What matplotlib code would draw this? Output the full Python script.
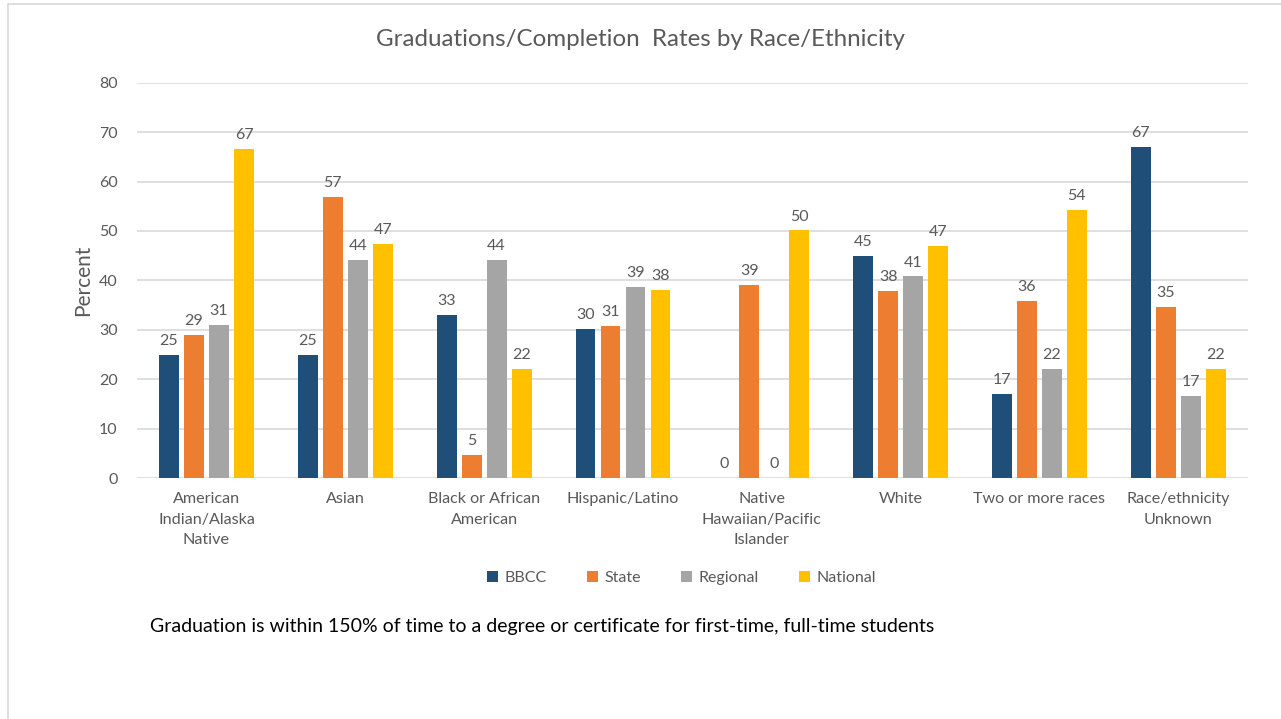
import numpy as np
import matplotlib.pyplot as plt
from matplotlib.patches import Rectangle

categories = ["American\nIndian/Alaska\nNative", "Asian", "Black or African\nAmerican",
              "Hispanic/Latino", "Native\nHawaiian/Pacific\nIslander", "White",
              "Two or more races", "Race/ethnicity\nUnknown"]
series_names = ["BBCC", "State", "Regional", "National"]
bbcc = [25, 25, 33, 30.1, 0, 45, 17, 67]
state = [28.9, 56.8, 4.6, 30.7, 39, 37.8, 35.8, 34.7]
regional = [30.9, 44.2, 44.2, 38.6, 0, 40.8, 22, 16.6]
national = [66.6, 47.3, 22, 38, 50.1, 46.9, 54.3, 22]
yticks = [0, 10, 20, 30, 40, 50, 60, 70, 80]

colors = ["#1F4E79", "#ED7D31", "#A5A5A5", "#FFC000"]
txt_gray = "#595959"

plt.rcParams['font.family'] = ['Lato', 'DejaVu Sans']

fig = plt.figure(figsize=(12.81, 7.19), dpi=100)
ax = fig.add_axes([0.107, 0.335, 0.867, 0.55])

x = np.arange(len(categories))
width = 0.143
pitch = 0.18
all_series = [bbcc, state, regional, national]
for i, (name, vals) in enumerate(zip(series_names, all_series)):
    offs = (i - 1.5) * pitch
    bars = ax.bar(x + offs, vals, width, color=colors[i], label=name, zorder=3)
    ax.bar_label(bars, labels=[f"{v:.0f}" for v in vals], padding=5,
                 fontsize=11.5, color=txt_gray)

ax.set_xlim(-0.5, len(categories) - 0.5)
ax.set_ylim(0, 80)
ax.set_yticks(yticks)
ax.set_xticks(x)
ax.set_xticklabels(categories, fontsize=11.6, color=txt_gray, linespacing=1.6)
ax.tick_params(axis='y', labelsize=11.5, labelcolor=txt_gray, length=0, pad=14)
ax.tick_params(axis='x', length=0, pad=10)
ax.grid(axis='y', color="#D9D9D9", linewidth=1.2, zorder=0)
for s in ax.spines.values():
    s.set_visible(False)

ax.set_ylabel("Percent", fontsize=15, color=txt_gray, labelpad=4)

fig.text(0.5, 0.945, "Graduations/Completion  Rates by Race/Ethnicity",
         ha='center', va='center', fontsize=17.4, color=txt_gray)

fig.legend(loc='center', bbox_to_anchor=(0.532, 0.196), ncol=4, frameon=False,
           fontsize=11.5, labelcolor=txt_gray, handlelength=0.7, handleheight=0.7,
           handletextpad=0.4, columnspacing=2.5)

fig.text(0.117, 0.128,
         "Graduation is within 150% of time to a degree or certificate for first-time, full-time students",
         ha='left', va='center', fontsize=14, color="black")

fig.patches.append(Rectangle((0.006, -0.01), 1.0, 1.004, transform=fig.transFigure,
                             fill=False, edgecolor="#D9D9D9", linewidth=1.2))

fig.savefig("out.png", dpi=100)
